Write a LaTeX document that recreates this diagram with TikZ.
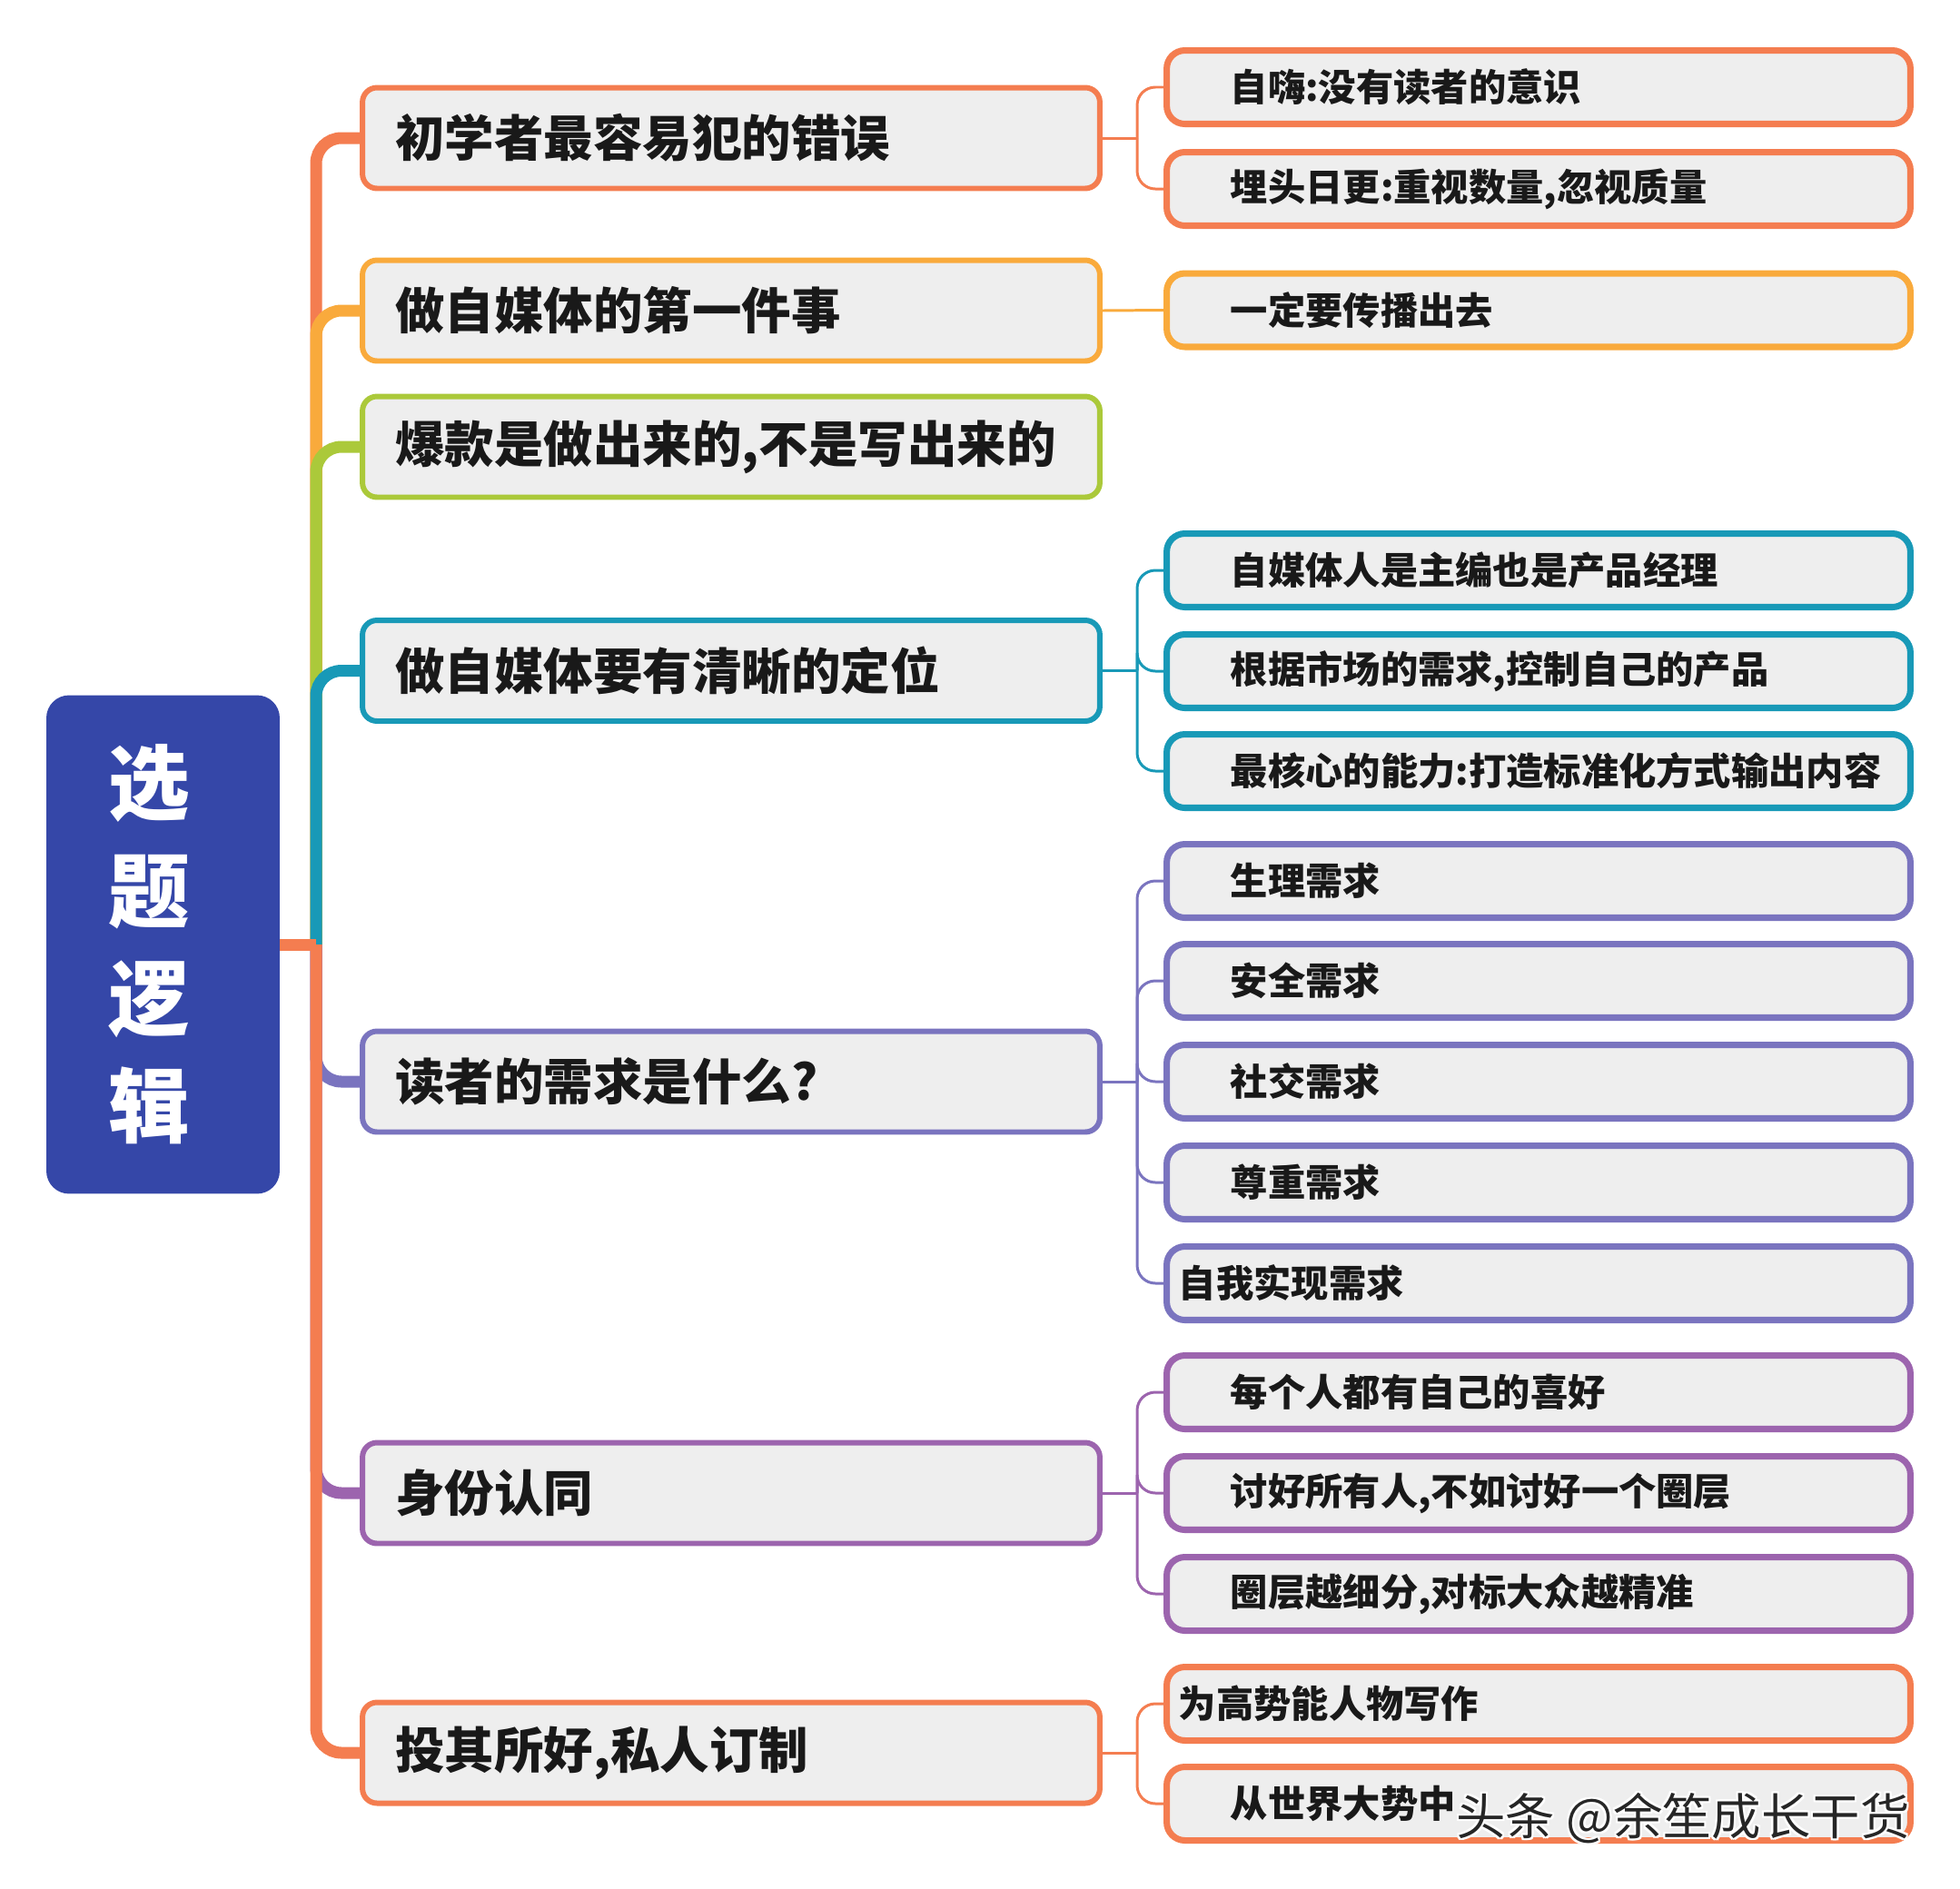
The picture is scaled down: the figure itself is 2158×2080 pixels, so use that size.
\documentclass[tikz,border=0pt]{standalone}
\usepackage{fontspec}
\setmainfont{Noto Sans CJK SC}
\usetikzlibrary{positioning}
\definecolor{cOr}{HTML}{F47D50}
\definecolor{cYe}{HTML}{F9AA3C}
\definecolor{cGr}{HTML}{ABC93A}
\definecolor{cTe}{HTML}{1899B7}
\definecolor{cLa}{HTML}{7A74BF}
\definecolor{cPu}{HTML}{9C64AE}
\definecolor{cRoot}{HTML}{3547A8}
\definecolor{cFill}{HTML}{EEEEEE}
\tikzset{
  mainbox/.style={rectangle, rounded corners=0.32cm, line width=3.4pt, fill=cFill,
    minimum width=16.24cm, minimum height=2.22cm, inner sep=0pt},
  childbox/.style={rectangle, rounded corners=0.4cm, line width=4pt, fill=cFill,
    minimum width=16.38cm, minimum height=1.62cm, inner sep=0pt},
  maintext/.style={inner sep=0pt, font=\fontsize{31}{36}\selectfont\bfseries, text=black!90},
  childtext/.style={inner sep=0pt, font=\fontsize{23.5}{28}\selectfont\bfseries, text=black!90},
  rootbox/.style={rectangle, rounded corners=0.5cm, fill=cRoot, draw=none,
    minimum width=5.14cm, minimum height=10.98cm},
  roottext/.style={inner sep=0pt, text=white, align=center,
    font=\fontsize{51}{67.5}\selectfont\bfseries},
  branch/.style={line width=7.4pt, rounded corners=0.56cm},
  sublink/.style={line width=1.7pt, rounded corners=0.4cm},
}
\newcommand\MainNode[4]{%
  \node[mainbox,draw=#3] (#1) at (805,#2) {};
  \node[maintext,anchor=west] (#1t) at ([xshift=0.78cm]#1.west) {#4};}
\newcommand\SubNode[5]{%
  \node[childbox,draw=#3] (#1) at (1694,#2) {};
  \node[childtext,anchor=west] (#1t) at ([xshift=#4]#1.west) {#5};}
\begin{document}
\begin{tikzpicture}[x=0.02cm,y=-0.02cm]
\fill[white] (0,0) rectangle (2158,2080);
\useasboundingbox (0,0) rectangle (2158,2080);

% root
\node[rootbox] (root) at (179.5,1040) {};
\node[roottext] (rootT) at (164,1040) {选\\题\\逻\\辑};
\coordinate (J) at (348,1040);

% main nodes
\MainNode{m1}{152}{cOr}{初学者最容易犯的错误}
\MainNode{m2}{342}{cYe}{做自媒体的第一件事}
\MainNode{m3}{492}{cGr}{爆款是做出来的,不是写出来的}
\MainNode{m4}{738.5}{cTe}{做自媒体要有清晰的定位}
\MainNode{m5}{1191}{cLa}{读者的需求是什么?}
\MainNode{m6}{1644}{cPu}{身份认同}
\MainNode{m7}{1930}{cOr}{投其所好,私人订制}

% children
\SubNode{c1a}{96}{cOr}{1.47cm}{自嗨:没有读者的意识}
\SubNode{c1b}{208}{cOr}{1.47cm}{埋头日更:重视数量,忽视质量}
\SubNode{c2a}{341.5}{cYe}{1.47cm}{一定要传播出去}
\SubNode{c4a}{628}{cTe}{1.47cm}{自媒体人是主编也是产品经理}
\SubNode{c4b}{739}{cTe}{1.47cm}{根据市场的需求,控制自己的产品}
\SubNode{c4c}{849}{cTe}{1.47cm}{最核心的能力:打造标准化方式输出内容}
\SubNode{c5a}{970}{cLa}{1.47cm}{生理需求}
\SubNode{c5b}{1080}{cLa}{1.47cm}{安全需求}
\SubNode{c5c}{1191}{cLa}{1.47cm}{社交需求}
\SubNode{c5d}{1302}{cLa}{1.47cm}{尊重需求}
\SubNode{c5e}{1413}{cLa}{0.33cm}{自我实现需求}
\SubNode{c6a}{1533}{cPu}{1.47cm}{每个人都有自己的喜好}
\SubNode{c6b}{1644}{cPu}{1.47cm}{讨好所有人,不如讨好一个圈层}
\SubNode{c6c}{1755}{cPu}{1.47cm}{圈层越细分,对标大众越精准}
\SubNode{c7a}{1876}{cOr}{0.33cm}{为高势能人物写作}
\SubNode{c7b}{1986}{cOr}{1.47cm}{从世界大势中}

% main branches
\draw[branch,cOr] (J) |- (m1.west);
\draw[branch,cYe] (J) |- (m2.west);
\draw[branch,cGr] (J) |- (m3.west);
\draw[branch,cTe] (J) |- (m4.west);
\draw[branch,cLa] (J) |- (m5.west);
\draw[branch,cPu] (J) |- (m6.west);
\draw[branch,cOr] (J) |- (m7.west);
\draw[line width=7.4pt,cOr] (root.east) -- (J);

% sub connectors
\coordinate (j1) at (1252,152);
\coordinate (j2) at (1252,342);
\coordinate (j4) at (1252,738.5);
\coordinate (j5) at (1252,1191);
\coordinate (j6) at (1252,1644);
\coordinate (j7) at (1252,1930);
\draw[sublink,cOr] (m1.east) -- (j1);
\draw[sublink,cOr] (j1) |- (c1a.west);
\draw[sublink,cOr] (j1) |- (c1b.west);
\draw[sublink,cYe] (m2.east) -- (c2a.west);
\draw[sublink,cTe] (m4.east) -- (j4);
\draw[sublink,cTe] (j4) |- (c4a.west);
\draw[sublink,cTe] (j4) |- (c4b.west);
\draw[sublink,cTe] (j4) |- (c4c.west);
\draw[sublink,cLa] (m5.east) -- (j5);
\draw[sublink,cLa] (j5) |- (c5a.west);
\draw[sublink,cLa] (j5) |- (c5b.west);
\draw[sublink,cLa] (j5) |- (c5c.west);
\draw[sublink,cLa] (j5) |- (c5d.west);
\draw[sublink,cLa] (j5) |- (c5e.west);
\draw[sublink,cPu] (m6.east) -- (j6);
\draw[sublink,cPu] (j6) |- (c6a.west);
\draw[sublink,cPu] (j6) |- (c6b.west);
\draw[sublink,cPu] (j6) |- (c6c.west);
\draw[sublink,cOr] (m7.east) -- (j7);
\draw[sublink,cOr] (j7) |- (c7a.west);
\draw[sublink,cOr] (j7) |- (c7b.west);

% watermark
\foreach \dx/\dy in {-2/0,2/0,0/-2,0/2,-2/-2,2/2,2/-2,-2/2}
  \node[anchor=west, inner sep=0pt, text=white, font=\fontsize{31}{36}\selectfont] at (1603+\dx,2002+\dy) {头条 @余笙成长干货};
\node[anchor=west, inner sep=0pt, text=black!85, font=\fontsize{31}{36}\selectfont] (wm) at (1603,2002) {头条 @余笙成长干货};
\end{tikzpicture}
\end{document}
